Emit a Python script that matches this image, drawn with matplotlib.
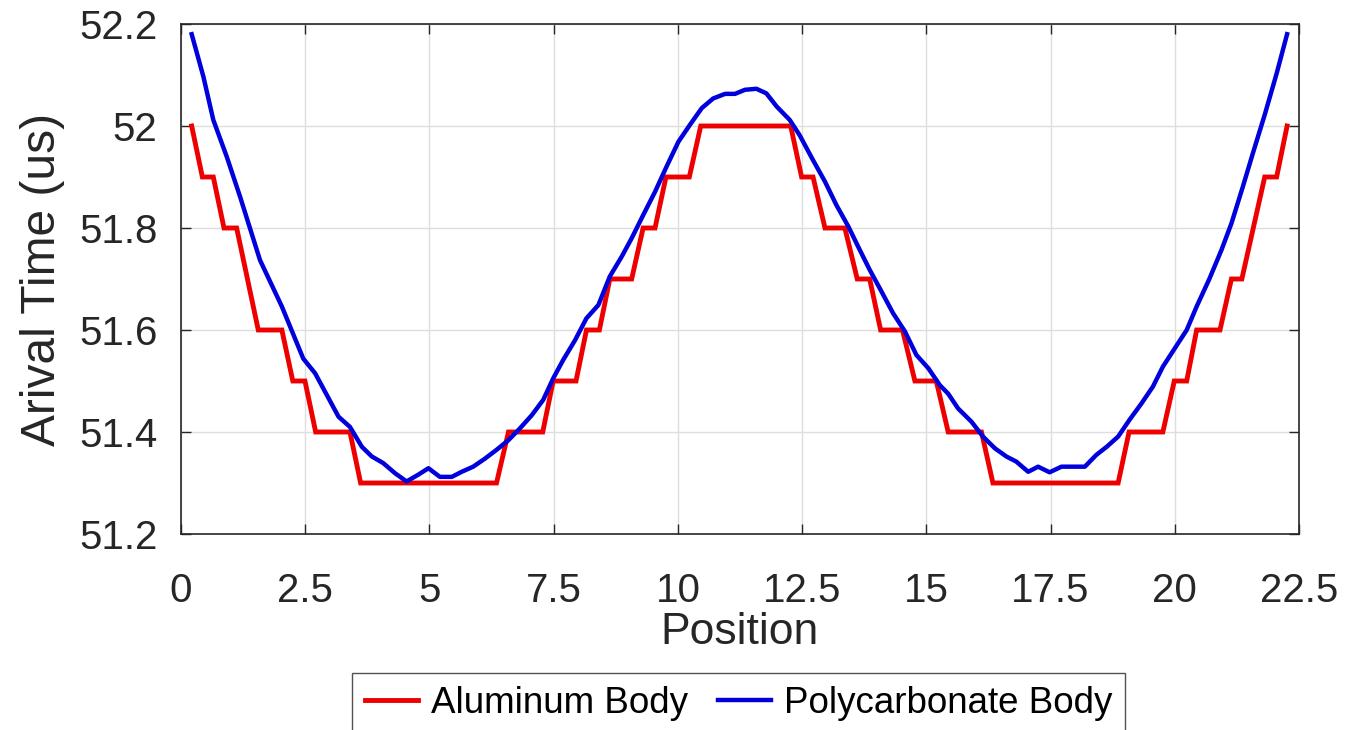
import matplotlib
matplotlib.use("Agg")
import matplotlib.pyplot as plt

plt.rcParams['font.family'] = ['Liberation Sans', 'DejaVu Sans']

# Aluminum body (red, quantized steps) - vertices
alu_x = [0.215, 0.43, 0.65, 0.865, 1.12, 1.555, 2.03, 2.25, 2.495, 2.71, 3.4, 3.615,
         6.35, 6.59, 7.28, 7.49, 7.95, 8.16, 8.42, 8.63, 9.07, 9.30, 9.54, 9.76, 10.23,
         10.46, 12.27, 12.49, 12.72, 12.96, 13.36, 13.61, 13.86, 14.08, 14.52, 14.77,
         15.20, 15.44, 16.11, 16.34, 18.86, 19.08, 19.76, 19.99, 20.24, 20.44, 20.91,
         21.14, 21.35, 21.81, 22.05, 22.26]
alu_y = [52.0, 51.9, 51.9, 51.8, 51.8, 51.6, 51.6, 51.5, 51.5, 51.4, 51.4, 51.3,
         51.3, 51.4, 51.4, 51.5, 51.5, 51.6, 51.6, 51.7, 51.7, 51.8, 51.8, 51.9, 51.9,
         52.0, 52.0, 51.9, 51.9, 51.8, 51.8, 51.7, 51.7, 51.6, 51.6, 51.5,
         51.5, 51.4, 51.4, 51.3, 51.3, 51.4, 51.4, 51.5, 51.5, 51.6, 51.6,
         51.7, 51.7, 51.9, 51.9, 52.0]

# Polycarbonate body (blue)
poly_x = [0.215, 0.45, 0.65, 0.92, 1.19, 1.59, 2.03, 2.46, 2.70, 3.17, 3.40, 3.64,
          3.84, 4.07, 4.31, 4.54, 4.77, 4.98, 5.21, 5.45, 5.65, 5.88, 6.12, 6.35,
          6.59, 6.82, 7.06, 7.29, 7.49, 7.69, 7.93, 8.16, 8.40, 8.63, 8.87, 9.07,
          9.30, 9.54, 9.77, 10.01, 10.24, 10.48, 10.71, 10.95, 11.15, 11.35, 11.58,
          11.78, 11.99, 12.25, 12.45, 12.72, 12.96, 13.19, 13.43, 13.63, 13.86,
          14.10, 14.33, 14.57, 14.80, 15.04, 15.27, 15.44, 15.64, 15.91, 16.14,
          16.38, 16.61, 16.81, 17.05, 17.25, 17.48, 17.72, 17.95, 18.19, 18.42,
          18.63, 18.86, 19.09, 19.33, 19.56, 19.76, 20.00, 20.24, 20.44, 20.70,
          20.94, 21.14, 21.37, 21.57, 21.81, 22.05, 22.26]
poly_y = [52.180, 52.097, 52.012, 51.940, 51.861, 51.737, 51.646, 51.544, 51.515,
          51.430, 51.410, 51.371, 51.352, 51.339, 51.319, 51.303, 51.316, 51.329,
          51.312, 51.312, 51.322, 51.332, 51.348, 51.365, 51.384, 51.407, 51.433,
          51.463, 51.505, 51.541, 51.580, 51.623, 51.649, 51.705, 51.744, 51.780,
          51.825, 51.871, 51.920, 51.969, 52.002, 52.035, 52.054, 52.063, 52.063,
          52.071, 52.073, 52.064, 52.038, 52.012, 51.982, 51.933, 51.891, 51.845,
          51.803, 51.763, 51.718, 51.675, 51.633, 51.597, 51.551, 51.525, 51.492,
          51.475, 51.446, 51.420, 51.391, 51.368, 51.352, 51.342, 51.322, 51.332,
          51.321, 51.332, 51.332, 51.332, 51.355, 51.371, 51.391, 51.424, 51.456,
          51.489, 51.528, 51.564, 51.600, 51.646, 51.701, 51.757, 51.809, 51.881,
          51.946, 52.022, 52.103, 52.180]

x_ticks = [0, 2.5, 5, 7.5, 10, 12.5, 15, 17.5, 20, 22.5]
x_tick_labels = ['0', '2.5', '5', '7.5', '10', '12.5', '15', '17.5', '20', '22.5']
y_ticks = [51.2, 51.4, 51.6, 51.8, 52.0, 52.2]
y_tick_labels = ['51.2', '51.4', '51.6', '51.8', '52', '52.2']

fig = plt.figure(figsize=(13.65, 7.3), dpi=100)
ax = fig.add_axes([181/1365, 1 - 534/730, (1299 - 181)/1365, (534 - 24)/730])

ax.plot(alu_x, alu_y, color='#ee0000', lw=3.5, label='Aluminum Body', solid_joinstyle='miter')
ax.plot(poly_x, poly_y, color='#0000dd', lw=3.2, label='Polycarbonate Body')

ax.set_xlim(0, 22.5)
ax.set_ylim(51.2, 52.2)
ax.set_xticks(x_ticks)
ax.set_xticklabels(x_tick_labels)
ax.set_yticks(y_ticks)
ax.set_yticklabels(y_tick_labels)

ax.grid(True, color='#dedede', lw=1.0)
ax.set_axisbelow(True)
for s in ax.spines.values():
    s.set_color('#262626')
    s.set_linewidth(1.2)

ax.tick_params(axis='both', direction='in', length=7, width=1.0, colors='#262626',
               labelsize=29, labelcolor='#262626', top=True, right=True)
ax.tick_params(axis='x', pad=27)
ax.tick_params(axis='y', pad=17)

ax.set_xlabel('Position', fontsize=32, color='#262626', labelpad=2)
ax.set_ylabel('Arival Time (us)', fontsize=34.5, color='#262626', labelpad=10)

leg = fig.legend(loc='upper left', bbox_to_anchor=(352/1365, 1 - 673/730), ncol=2,
                 fontsize=26.5, frameon=True, fancybox=False, edgecolor='#262626',
                 handlelength=1.45, handletextpad=0.35, columnspacing=0.8,
                 borderpad=0.35, borderaxespad=0)
leg.get_frame().set_linewidth(1.0)

fig.savefig('out.png', dpi=100)
